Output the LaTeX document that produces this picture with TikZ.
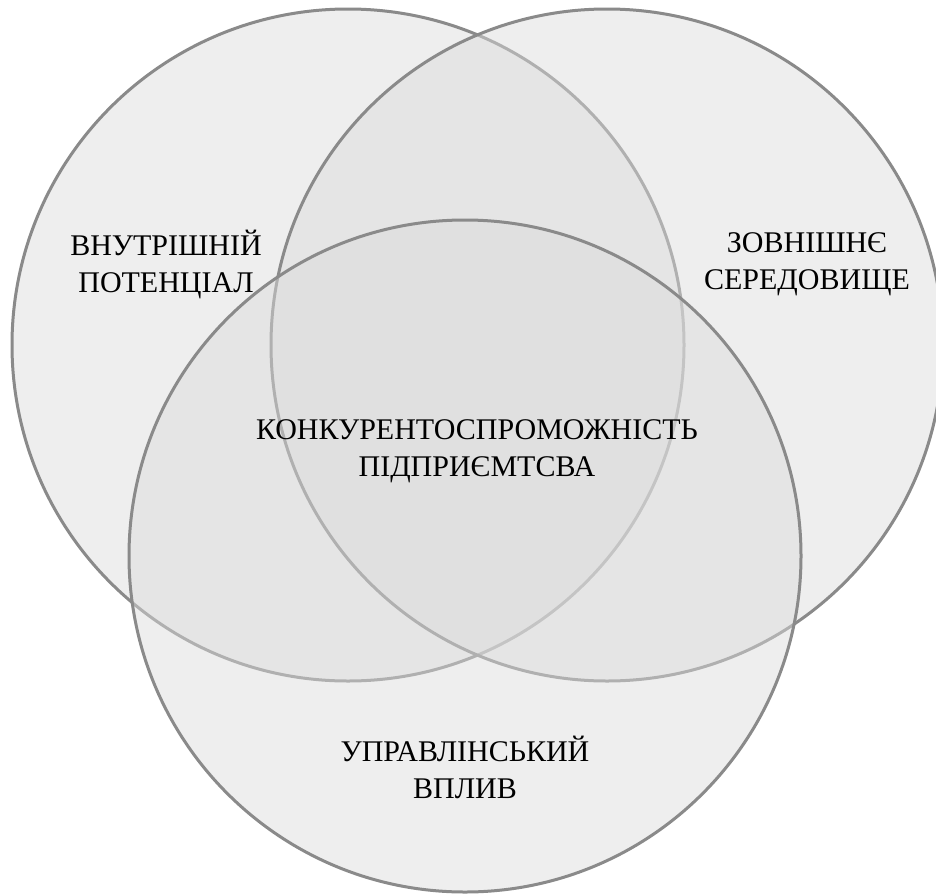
\documentclass[tikz,border=0pt]{standalone}
\usepackage{fontspec}
\setmainfont{Liberation Serif}
\definecolor{ringline}{RGB}{138,138,138}
\definecolor{ringfill}{RGB}{220,220,220}
\begin{document}
\begin{tikzpicture}[x=1pt,y=-1pt,
  ring/.style={draw=ringline,line width=3pt,fill=ringfill,fill opacity=0.47},
  lbl/.style={align=center,font=\fontsize{30}{37}\selectfont,text=black,inner sep=0pt,anchor=center}]
\useasboundingbox[fill=white] (0,0) rectangle (936,894);
\fill[ring] (348,345) circle[radius=336];
\fill[ring] (607,345) circle[radius=336];
\fill[ring] (465,556) circle[radius=336];
\node[lbl] (inner) at (166,264) {ВНУТРІШНІЙ\\ПОТЕНЦІАЛ};
\node[lbl] (outer) at (807,264) {ЗОВНІШНЄ\\СЕРЕДОВИЩЕ};
\node[lbl] (core) at (477,451) {КОНКУРЕНТОСПРОМОЖНІСТЬ\\ПІДПРИЄМТСВА};
\node[lbl] (mgmt) at (465,767) {УПРАВЛІНСЬКИЙ\\ВПЛИВ};
\end{tikzpicture}
\end{document}
